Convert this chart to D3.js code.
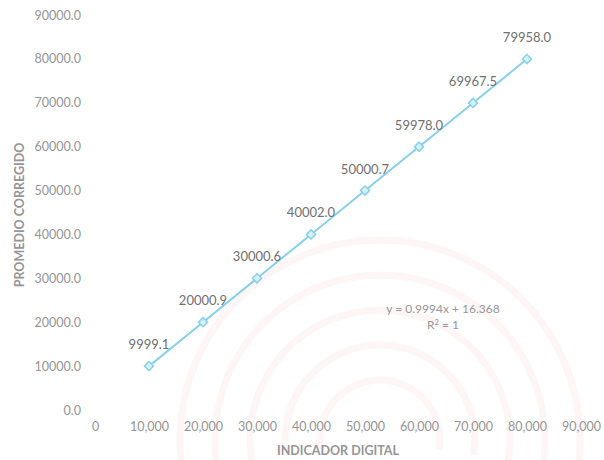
<!DOCTYPE html>
<html><head><meta charset="utf-8">
<script src="https://cdn.jsdelivr.net/npm/d3@7/dist/d3.min.js"></script>
<style>body{margin:0;background:#fff}svg{display:block;font-family:Lato,"Open Sans",sans-serif}</style>
</head><body><svg id="c" width="604" height="460"></svg>
<script>
const xValues = [10000, 20000, 30000, 40000, 50000, 60000, 70000, 80000];
const yValues = [9999.1, 20000.9, 30000.6, 40002.0, 50000.7, 59978.0, 69967.5, 79958.0];
const xTicks = [0, 10000, 20000, 30000, 40000, 50000, 60000, 70000, 80000, 90000];
const yTicks = [0, 10000, 20000, 30000, 40000, 50000, 60000, 70000, 80000, 90000];
const xTitle = "INDICADOR DIGITAL";
const yTitle = "PROMEDIO CORREGIDO";
const equation = "y = 0.9994x + 16.368";

const svg = d3.select("#c");
const x = d3.scaleLinear().domain([0, 90000]).range([95, 581]);
const y = d3.scaleLinear().domain([0, 90000]).range([410, 15]);
const txt = "#959595";
const lineCol = "#88d0ea";

// very faint background watermark arcs
const wm = svg.append("g").attr("fill", "none").attr("stroke", "#fdf5f6").attr("stroke-width", 7);
[60, 95, 130, 165, 200].forEach(rr => {
  wm.append("path").attr("d", d3.arc().innerRadius(rr).outerRadius(rr).startAngle(-Math.PI * 0.55).endAngle(Math.PI * 0.55)())
    .attr("transform", "translate(380,440)");
});

const yAxis = svg.append("g").attr("transform", "translate(81,0)")
  .call(d3.axisLeft(y).tickValues(yTicks).tickFormat(d3.format(".1f")).tickSize(0).tickPadding(0));
yAxis.select(".domain").remove();
yAxis.selectAll("text").attr("fill", txt).attr("font-size", 12.5).attr("font-family", "Lato,sans-serif");

const xAxis = svg.append("g").attr("transform", "translate(0,422)")
  .call(d3.axisBottom(x).tickValues(xTicks).tickFormat(d3.format(",")).tickSize(0).tickPadding(0));
xAxis.select(".domain").remove();
xAxis.selectAll("text").attr("fill", txt).attr("font-size", 12.5).attr("font-family", "Lato,sans-serif");

svg.append("text").attr("x", 338).attr("y", 455).attr("text-anchor", "middle")
  .attr("fill", txt).attr("font-size", 12.5).attr("font-weight", "bold").text(xTitle);
svg.append("text").attr("transform", "translate(24,215) rotate(-90)").attr("text-anchor", "middle")
  .attr("fill", txt).attr("font-size", 12.5).attr("font-weight", "bold").text(yTitle);

const pts = xValues.map((v, i) => [v, yValues[i]]);
svg.append("path").datum(pts)
  .attr("d", d3.line().x(d => x(d[0])).y(d => y(d[1])))
  .attr("fill", "none").attr("stroke", lineCol).attr("stroke-width", 2);

svg.selectAll(".m").data(pts).join("path").attr("class", "m")
  .attr("d", d3.symbol().type(d3.symbolSquare).size(42))
  .attr("transform", d => `translate(${x(d[0])},${y(d[1])}) rotate(45)`)
  .attr("fill", "#d6f0f8").attr("stroke", lineCol).attr("stroke-width", 1.5);

svg.selectAll(".lb").data(pts).join("text").attr("class", "lb")
  .attr("x", d => x(d[0])).attr("y", d => y(d[1]) - 17)
  .attr("text-anchor", "middle").attr("fill", "#707070").attr("font-size", 13)
  .text(d => d[1].toFixed(1));

svg.append("text").attr("x", 443).attr("y", 313).attr("text-anchor", "middle")
  .attr("fill", txt).attr("font-size", 12).text(equation);
const r = svg.append("text").attr("x", 443).attr("y", 329).attr("text-anchor", "middle")
  .attr("fill", txt).attr("font-size", 12);
r.append("tspan").text("R");
r.append("tspan").attr("dy", -4).attr("font-size", 7.5).text("2");
r.append("tspan").attr("dy", 4).text(" = 1");
</script></body></html>
